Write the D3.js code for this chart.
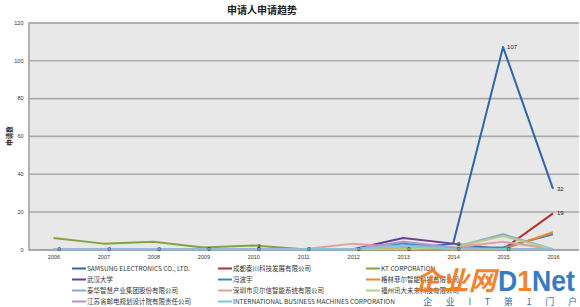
<!DOCTYPE html>
<html>
<head>
<meta charset="utf-8">
<script src="https://cdn.jsdelivr.net/npm/d3@7/dist/d3.min.js"></script>
<style>
  body { margin: 0; background: #fff; }
  svg { display: block; font-family: "Noto Sans CJK SC", "Liberation Sans", sans-serif; }
</style>
</head>
<body>
<div id="chart"></div>
<script>

// chart data
var years = ["2006","2007","2008","2009","2010","2011","2012","2013","2014","2015","2016"];
var seriesNames = [
  "SAMSUNG ELECTRONICS CO., LTD.", "成都秦川科技发展有限公司", "KT CORPORATION",
  "武汉大学", "冯波宇", "格林菲尔智能科技有限公司",
  "泰华智慧产业集团股份有限公司", "深圳市贝尔信智能系统有限公司", "福州讯大未来科技有限公司",
  "江苏省邮电规划设计院有限责任公司", "INTERNATIONAL BUSINESS MACHINES CORPORATION"
];
var samsung   = [0,0,0,0,0,0,0,0,3,107,32];
var chengdu   = [0,0,0,0,0,0,0,0,0,0,19];
var kt        = [6,3,4,1,2,0,0,0,0,0,0];
var whu       = [0,0,0,0,0,0,0,6,3,0,0];
var fengboyu  = [0,0,0,0,0,0,0,3,1,1,8];
var gelin     = [0,0,0,0,0,0,0,0,0,0,9];
var taihua    = [0,0,0,0,0,0,0,2,1,8,0];
var shenzhen  = [0,0,0,0,0,0,3,1,1,4,0];
var fuzhou    = [0,0,0,0,0,0,0,0,1,7,0];
var jiangsu   = [0,0,0,0,0,0,0,4,1,0,0];
var ibm       = [0,0,0,0,0,0,0,2,0,0,0];
var seriesValues = [samsung, chengdu, kt, whu, fengboyu, gelin, taihua, shenzhen, fuzhou, jiangsu, ibm];
var colors = ["#2f65aa","#b33131","#87a23b","#6b3e92","#2f92af","#f0852a",
              "#8ea7d9","#e49e9b","#b0cf8a","#a99bc9","#82c6de"];
var yTicks = [0,20,40,60,80,100,120];
// which points carry a value label: [series index, year index]
var labelled = [[0,0],[0,1],[0,2],[0,3],[0,4],[0,5],[0,6],[0,7],[0,8],[0,9],[0,10],
                [10,8],[10,9],[1,10],[2,4]];

var svg = d3.select("#chart").append("svg")
    .attr("width", 580).attr("height", 307);

var plot = {left: 28.5, right: 579, top: 22.5, bottom: 249.3};

var x = d3.scalePoint().domain(years).range([plot.left, plot.right - 1]).padding(0.5);
var y = d3.scaleLinear().domain([0,120]).range([plot.bottom, plot.top]);

// plot background
svg.append("rect")
    .attr("x", plot.left).attr("y", plot.top)
    .attr("width", plot.right - plot.left).attr("height", plot.bottom - plot.top)
    .attr("fill", "#e8e8e8");

// title
svg.append("text")
    .attr("x", 262).attr("y", 14)
    .attr("text-anchor", "middle")
    .style("font-size", "10px").style("font-weight", "bold").style("fill", "#222")
    .text("申请人申请趋势");

// gridlines + y axis
var yAxis = svg.append("g")
    .attr("transform", "translate(" + plot.left + ",0)")
    .call(d3.axisLeft(y).tickValues(yTicks).tickSize(-(plot.right - plot.left)).tickPadding(5));
yAxis.select(".domain").attr("stroke", "#8c8c8c").attr("stroke-width", 1.2);
yAxis.selectAll(".tick line").attr("stroke", "#aaaaaa").attr("stroke-width", 1.6);
yAxis.selectAll(".tick text").style("font-size", "5.5px").style("fill", "#333")
    .style("font-family", "Liberation Sans, sans-serif");

// y axis title
svg.append("text")
    .attr("transform", "translate(12,136) rotate(-90)")
    .attr("text-anchor", "middle")
    .style("font-size", "6.5px").style("font-weight", "bold").style("fill", "#222")
    .text("申请数");

// x axis
var xAxis = svg.append("g")
    .attr("transform", "translate(0," + plot.bottom + ")")
    .call(d3.axisBottom(x).tickSize(0).tickPadding(6));
xAxis.select(".domain").attr("stroke", "#9a9a9a").attr("stroke-width", 1);
xAxis.selectAll(".tick text").style("font-size", "5.5px").style("fill", "#333")
    .style("font-family", "Liberation Sans, sans-serif");

// lines
var line = d3.line()
    .x(function(d, i) { return x(years[i]); })
    .y(function(d) { return y(d); });

svg.append("g").selectAll("path")
  .data(seriesValues)
  .enter().append("path")
    .attr("d", line)
    .attr("fill", "none")
    .attr("stroke", function(d, i) { return colors[i]; })
    .attr("stroke-width", 2)
    .attr("stroke-linejoin", "round");

// value labels
svg.append("g").selectAll("text")
  .data(labelled)
  .enter().append("text")
    .attr("x", function(d) { return x(years[d[1]]) + 4; })
    .attr("y", function(d) { return y(seriesValues[d[0]][d[1]]) + 2; })
    .style("font-size", "6px").style("fill", "#222")
    .style("font-family", "Liberation Sans, sans-serif")
    .text(function(d) { return seriesValues[d[0]][d[1]]; });

// legend, 3 columns
var colX = [72, 218, 366];
var legend = svg.append("g").selectAll("g")
  .data(seriesNames)
  .enter().append("g")
    .attr("transform", function(d, i) {
      return "translate(" + colX[i % 3] + "," + (268.5 + Math.floor(i / 3) * 11) + ")";
    });
legend.append("line")
    .attr("x1", 0).attr("x2", 14)
    .attr("stroke", function(d, i) { return colors[i]; })
    .attr("stroke-width", 2);
legend.append("text")
    .attr("x", 15).attr("y", 2.3)
    .style("font-size", "6.5px").style("fill", "#333")
    .text(function(d) { return d; });

// watermark (sits over the legend like in the source)
var wm = svg.append("g");
wm.append("text")
    .attr("x", 414).attr("y", 290)
    .attr("textLength", 82).attr("lengthAdjust", "spacingAndGlyphs")
    .style("font-size", "26px").style("font-weight", "bold").style("font-style", "italic")
    .style("fill", "#f07a1c").style("opacity", 0.92)
    .text("企业网");
var d1 = wm.append("text")
    .attr("x", 498).attr("y", 291)
    .attr("textLength", 77).attr("lengthAdjust", "spacingAndGlyphs")
    .style("font-size", "30px").style("font-weight", "bold")
    .style("font-family", "Liberation Sans, sans-serif")
    .style("fill", "#2a70b8").style("opacity", 0.92);
d1.append("tspan").text("D");
d1.append("tspan").style("fill", "#f07a1c").text("1");
d1.append("tspan").text("Net");
wm.append("text")
    .attr("x", 423).attr("y", 304.5)
    .attr("textLength", 154).attr("lengthAdjust", "spacing")
    .style("font-size", "9px").style("fill", "#2a70b8")
    .text("企业IT第1门户");

</script>
</body>
</html>
